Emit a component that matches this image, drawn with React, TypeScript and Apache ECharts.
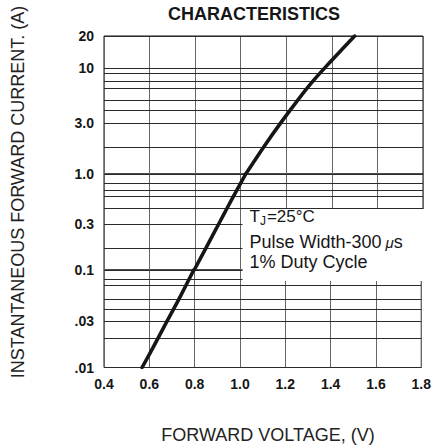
import React, { useEffect, useRef } from 'react';
import * as echarts from 'echarts';

// X axis (forward voltage, V)
const xMin = 0.4;
const xMax = 1.8;
const xStep = 0.2;

// Y bands of the log grid (the original drawing uses different decade heights)
const bandMin = [1, 0.1, 0.01];
const bandMax = [20, 1, 0.1];

// Horizontal grid lines (A)
const gridLinesHigh = [20, 10, 9, 7.5, 6.5, 5, 4, 3, 1.8, 1];
const gridLinesMid = [1, 0.8, 0.68, 0.58, 0.44, 0.3, 0.17, 0.1];
const gridLinesLow = [0.1, 0.076, 0.065, 0.05, 0.039, 0.03, 0.0165, 0.01];

// Tick labels of the current axis
const yLabelValues = [20, 10, 3, 1, 0.3, 0.1, 0.03, 0.01];
const yLabelTexts = ['20', '10', '3.0', '1.0', '0.3', '0.1', '.03', '.01'];

// Forward characteristic (V, A), split per band
const curveHigh = [
  [1.022, 1.0], [1.104, 1.84], [1.174, 3.0], [1.253, 5.06], [1.315, 7.42], [1.376, 10.4], [1.5, 20],
];
const curveMid = [
  [0.796, 0.1], [0.849, 0.172], [0.908, 0.316], [0.94, 0.44], [0.983, 0.68], [1.022, 1.0],
];
const curveLow = [
  [0.568, 0.01], [0.618, 0.0163], [0.673, 0.0284], [0.73, 0.05], [0.796, 0.1],
];

const FONT = '"Liberation Sans", Arial, Helvetica, sans-serif';
const INK = '#161616';

export default function App() {
  const ref = useRef<HTMLDivElement>(null);

  useEffect(() => {
    if (!ref.current) return;
    const chart = echarts.init(ref.current, null, { renderer: 'svg' });

    const gridTops = [36, 174, 270];
    const gridHeights = [138, 96, 97.5];
    const gridLineSets = [gridLinesHigh, gridLinesMid, gridLinesLow];
    const curves = [curveHigh, curveMid, curveLow];

    const labelFor = (v: number, band: number) => {
      const idx = yLabelValues.findIndex((lv) => Math.abs(lv - v) < 1e-9);
      if (idx < 0) return null;
      // boundary values labelled once: 1 in top band, 0.1 in middle band
      if (band === 1 && v === 1) return null;
      if (band === 2 && v === 0.1) return null;
      return yLabelTexts[idx];
    };

    const grids = gridTops.map((top, i) => ({
      left: 104,
      right: 11,
      top,
      height: gridHeights[i],
      show: true,
      borderColor: '#111',
      borderWidth: 1,
      backgroundColor: 'transparent',
    }));

    const xAxes = gridTops.map((_, i) => ({
      type: 'value',
      gridIndex: i,
      min: xMin,
      max: xMax,
      interval: xStep,
      axisLine: { show: false },
      axisTick: { show: false },
      splitLine: { show: true, lineStyle: { color: '#666', width: 1 } },
      axisLabel: {
        show: i === 2,
        formatter: (v: number) => v.toFixed(1),
        fontSize: 14,
        fontWeight: 'bold',
        fontFamily: FONT,
        color: INK,
        margin: 9,
      },
    }));

    const yAxes = gridTops.map((_, i) => ({
      type: 'log',
      logBase: 10,
      gridIndex: i,
      min: bandMin[i],
      max: bandMax[i],
      axisLine: { show: false },
      axisTick: { show: false },
      axisLabel: { show: false },
      splitLine: { show: false },
    }));

    const gridSeries = gridLineSets.map((vals, i) => ({
      type: 'line',
      xAxisIndex: i,
      yAxisIndex: i,
      data: [],
      z: 1,
      silent: true,
      markLine: {
        silent: true,
        symbol: ['none', 'none'],
        animation: false,
        lineStyle: { color: '#2a2a2a', width: 1, type: 'solid' },
        label: { show: false },
        emphasis: { disabled: true },
        data: vals.map((v) => {
          const t = labelFor(v, i);
          return {
            yAxis: v,
            label: t
              ? {
                  show: true,
                  position: 'start',
                  formatter: t,
                  distance: 10,
                  fontSize: 14,
                  fontWeight: 'bold',
                  fontFamily: FONT,
                  color: INK,
                }
              : { show: false },
          };
        }),
      },
    }));

    const curveSeries = curves.map((data, i) => ({
      type: 'line',
      xAxisIndex: i,
      yAxisIndex: i,
      data,
      showSymbol: false,
      smooth: 0.3,
      z: 5,
      silent: true,
      lineStyle: { color: INK, width: 3.6, cap: 'round' },
    }));

    chart.setOption({
      animation: false,
      backgroundColor: '#fff',
      grid: grids,
      xAxis: xAxes,
      yAxis: yAxes,
      series: [...gridSeries, ...curveSeries],
      graphic: [
        {
          type: 'text',
          x: 254,
          y: 14,
          z: 100,
          style: {
            text: 'CHARACTERISTICS',
            font: `bold 18px ${FONT}`,
            fill: INK,
            textAlign: 'center',
            textVerticalAlign: 'middle',
          },
        },
        {
          type: 'text',
          x: 18,
          y: 192,
          rotation: Math.PI / 2,
          z: 100,
          style: {
            text: 'INSTANTANEOUS FORWARD CURRENT. (A)',
            font: `18px ${FONT}`,
            fill: '#222',
            textAlign: 'center',
            textVerticalAlign: 'middle',
          },
        },
        {
          type: 'text',
          x: 268,
          y: 435,
          z: 100,
          style: {
            text: 'FORWARD VOLTAGE, (V)',
            font: `18px ${FONT}`,
            fill: '#222',
            textAlign: 'center',
            textVerticalAlign: 'middle',
          },
        },
        {
          type: 'rect',
          z: 90,
          shape: { x: 242.5, y: 209, width: 182, height: 72 },
          style: { fill: '#fff', stroke: 'none' },
        },
        {
          type: 'text',
          x: 249.5,
          y: 216,
          z: 100,
          style: {
            text: '{a|T}{s|J}{a|=25°C}',
            fill: INK,
            textVerticalAlign: 'middle',
            rich: {
              a: { fontSize: 17, fontFamily: FONT, fill: INK },
              s: { fontSize: 12, fontFamily: FONT, fill: INK, padding: [9, 1, 0, 0] },
            },
          },
        },
        {
          type: 'text',
          x: 249.5,
          y: 241.5,
          z: 100,
          style: {
            text: '{a|Pulse Width-300}{m|μ}{a|s}',
            fill: INK,
            textVerticalAlign: 'middle',
            rich: {
              a: { fontSize: 18, fontFamily: FONT, fill: INK },
              m: { fontSize: 15, fontStyle: 'italic', fontFamily: FONT, fill: INK, padding: [2, 0, 0, 4] },
            },
          },
        },
        {
          type: 'text',
          x: 249.5,
          y: 262,
          z: 100,
          style: {
            text: '1% Duty Cycle',
            font: `18px ${FONT}`,
            fill: INK,
            textVerticalAlign: 'middle',
          },
        },
      ],
    });

    return () => chart.dispose();
  }, []);

  return <div ref={ref} style={{ width: 434, height: 448, position: 'absolute', left: 0, top: 0 }} />;
}
